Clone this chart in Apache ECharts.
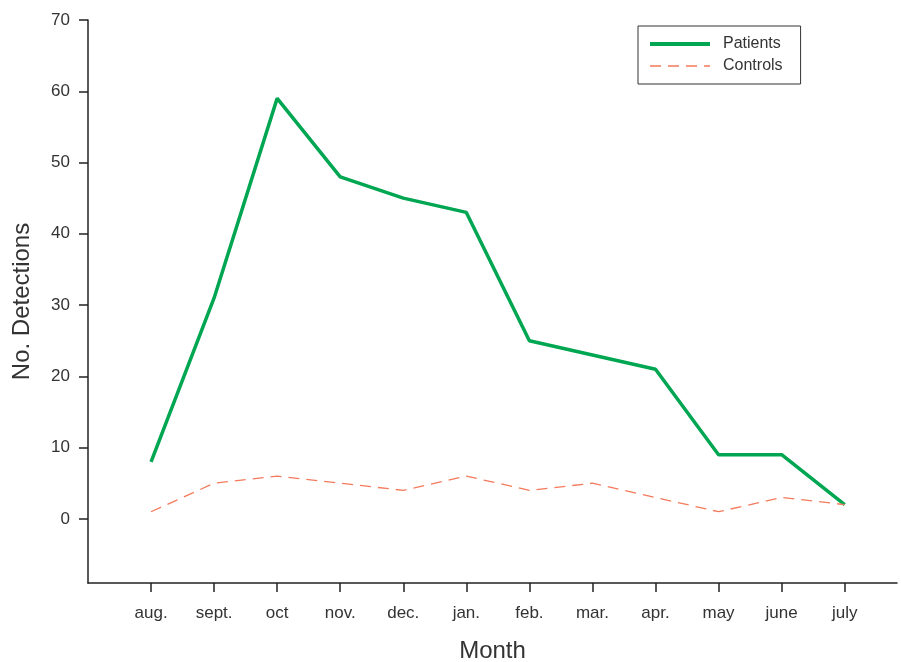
<!DOCTYPE html>
<html>
<head>
<meta charset="utf-8">
<script src="https://cdn.jsdelivr.net/npm/echarts@6/dist/echarts.min.js"></script>
<style>
  html, body { margin: 0; padding: 0; background: #fff; }
  #chart { width: 901px; height: 662px; }
</style>
</head>
<body>
<div id="chart"></div>
<script>
// Monthly detection counts, August through July
const months = ['aug.', 'sept.', 'oct', 'nov.', 'dec.', 'jan.', 'feb.', 'mar.', 'apr.', 'may', 'june', 'july'];
const patients = [8, 31, 59, 48, 45, 43, 25, 23, 21, 9, 9, 2];
const controls = [1, 5, 6, 5, 4, 6, 4, 5, 3, 1, 3, 2];
const yTicks = [0, 10, 20, 30, 40, 50, 60, 70];

const monthIdx = months.map((_, i) => i);
const toPairs = arr => arr.map((v, i) => [i, v]);

const textColor = '#333';
const axisColor = '#222';
const font = 'Liberation Sans';
const green = '#00a651';
const coral = '#f47a5c';

const chart = echarts.init(document.getElementById('chart'));
chart.setOption({
  animation: false,
  grid: { left: 88, top: 20, right: 4, bottom: 79, outerBoundsMode: 'none', containLabel: false },
  legend: {
    orient: 'vertical',
    left: 638,
    top: 26,
    padding: [10, 18, 10, 10],
    itemGap: 6,
    itemWidth: 60,
    itemHeight: 15,
    borderColor: '#333',
    borderWidth: 1,
    itemStyle: { opacity: 0 },
    textStyle: { fontFamily: font, fontSize: 16, color: textColor, padding: [0, 0, 0, 8] },
    data: [
      { name: 'Patients', lineStyle: { width: 4, color: green } },
      { name: 'Controls', lineStyle: { width: 1.5, color: coral, type: [11, 7] } }
    ]
  },
  xAxis: {
    type: 'value',
    min: -1,
    max: 11.83,
    name: 'Month',
    nameLocation: 'middle',
    nameGap: 56,
    nameTextStyle: { fontFamily: font, fontSize: 24, color: textColor },
    splitLine: { show: false },
    axisLine: { onZero: false, lineStyle: { color: axisColor, width: 1.5 } },
    axisTick: { customValues: monthIdx, length: 9, lineStyle: { color: axisColor, width: 1.5 } },
    axisLabel: {
      customValues: monthIdx,
      formatter: v => months[v],
      margin: 22,
      fontFamily: font,
      fontSize: 17,
      color: textColor
    }
  },
  yAxis: {
    type: 'value',
    min: -9,
    max: 70,
    name: 'No. Detections',
    nameLocation: 'middle',
    nameGap: 54,
    nameRotate: 90,
    nameTextStyle: { fontFamily: font, fontSize: 24, color: textColor },
    splitLine: { show: false },
    axisLine: { show: true, onZero: false, lineStyle: { color: axisColor, width: 1.5 } },
    axisTick: { show: true, customValues: yTicks, length: 9, lineStyle: { color: axisColor, width: 1.5 } },
    axisLabel: {
      customValues: yTicks,
      margin: 18,
      fontFamily: font,
      fontSize: 17,
      color: textColor
    }
  },
  series: [
    {
      name: 'Patients',
      type: 'line',
      data: toPairs(patients),
      symbol: 'none',
      color: green,
      lineStyle: { color: green, width: 3.5 }
    },
    {
      name: 'Controls',
      type: 'line',
      data: toPairs(controls),
      symbol: 'none',
      color: coral,
      lineStyle: { color: coral, width: 1.3, type: [11, 7] }
    }
  ]
});
</script>
</body>
</html>
